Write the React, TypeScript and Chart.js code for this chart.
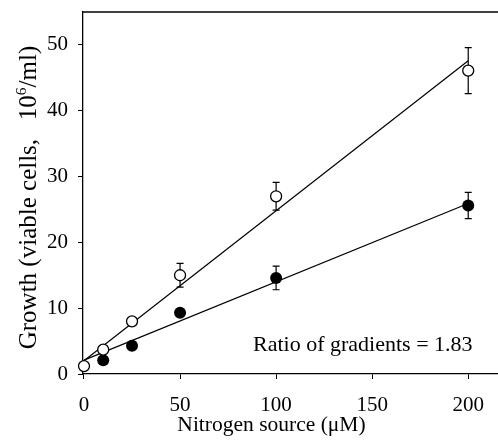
import React, { useEffect, useRef } from "react";
import { Chart, registerables } from "chart.js";

Chart.register(...registerables);

// ---- data ----
const openN = [0, 10, 25, 50, 100, 200];
const openGrowth = [1.2, 3.7, 8.0, 15.0, 27.0, 46.1];
const openErr = [0, 0, 0, 1.8, 2.1, 3.5];
const filledN = [10, 25, 50, 100, 200];
const filledGrowth = [2.1, 4.3, 9.3, 14.6, 25.6];
const filledErr = [0, 0, 0, 1.8, 2.0];
const fitX = [0, 200];
const openFit = [2.0, 47.6];
const filledFit = [2.1, 25.9];
const xTicks = [0, 50, 100, 150, 200];
const yTicks = [0, 10, 20, 30, 40, 50];
const xTitle = "Nitrogen source (\u03BCM)";
const yTitleMain = "Growth (viable cells,   10";
const yTitleSup = "6";
const yTitleEnd = "/ml)";
const annotation = "Ratio of gradients = 1.83";

const SERIF = "'Liberation Serif', 'Times New Roman', serif";

const figurePlugin = {
  id: "figureExtras",
  beforeDatasetsDraw(chart: any) {
    const ctx = chart.ctx;
    const xs = chart.scales.x;
    const ys = chart.scales.y;
    ctx.save();
    ctx.strokeStyle = "#000";
    ctx.lineWidth = 1.2;
    const drawErr = (xv: number, yv: number, e: number) => {
      if (!e) return;
      const px = xs.getPixelForValue(xv);
      const t = ys.getPixelForValue(yv + e);
      const b = ys.getPixelForValue(yv - e);
      ctx.beginPath();
      ctx.moveTo(px, t);
      ctx.lineTo(px, b);
      ctx.moveTo(px - 3.5, t);
      ctx.lineTo(px + 3.5, t);
      ctx.moveTo(px - 3.5, b);
      ctx.lineTo(px + 3.5, b);
      ctx.stroke();
    };
    openN.forEach((n, i) => drawErr(n, openGrowth[i], openErr[i]));
    filledN.forEach((n, i) => drawErr(n, filledGrowth[i], filledErr[i]));
    ctx.restore();
  },
  afterDraw(chart: any) {
    const ctx = chart.ctx;
    const area = chart.chartArea;
    ctx.save();
    // top frame line
    ctx.strokeStyle = "#000";
    ctx.lineWidth = 1.3;
    ctx.beginPath();
    ctx.moveTo(area.left, area.top);
    ctx.lineTo(chart.width, area.top);
    ctx.stroke();

    ctx.fillStyle = "#000";
    // annotation
    ctx.font = `22px ${SERIF}`;
    ctx.textAlign = "left";
    ctx.textBaseline = "alphabetic";
    ctx.fillText(annotation, 253, 351);

    // x title
    ctx.font = `21.5px ${SERIF}`;
    ctx.textAlign = "center";
    ctx.fillText(xTitle, 271.5, 430.7);

    // y title (rotated with superscript)
    ctx.translate(35.5, 197.5);
    ctx.rotate(-Math.PI / 2);
    ctx.textAlign = "left";
    const big = `25px ${SERIF}`;
    const small = `15.5px ${SERIF}`;
    ctx.font = big;
    const w1 = ctx.measureText(yTitleMain).width;
    const w3 = ctx.measureText(yTitleEnd).width;
    ctx.font = small;
    const w2 = ctx.measureText(yTitleSup).width;
    const start = -(w1 + w2 + w3) / 2;
    ctx.font = big;
    ctx.fillText(yTitleMain, start, 0);
    ctx.font = small;
    ctx.fillText(yTitleSup, start + w1, -10);
    ctx.font = big;
    ctx.fillText(yTitleEnd, start + w1 + w2, 0);
    ctx.restore();
  },
};

export default function App() {
  const ref = useRef<HTMLCanvasElement | null>(null);

  useEffect(() => {
    if (!ref.current) return;
    const tickFont = { family: SERIF, size: 21 };
    const chart = new Chart(ref.current, {
      type: "scatter",
      data: {
        datasets: [
          {
            label: "open",
            data: openN.map((x, i) => ({ x, y: openGrowth[i] })),
            pointRadius: 5.5,
            pointBackgroundColor: "#fff",
            pointBorderColor: "#000",
            pointBorderWidth: 1.3,
            showLine: false,
            clip: false,
            order: 0,
          },
          {
            label: "filled",
            data: filledN.map((x, i) => ({ x, y: filledGrowth[i] })),
            pointRadius: 6,
            pointBackgroundColor: "#000",
            pointBorderColor: "#000",
            pointBorderWidth: 0,
            showLine: false,
            clip: false,
            order: 0,
          },
          {
            label: "open fit",
            data: fitX.map((x, i) => ({ x, y: openFit[i] })),
            showLine: true,
            pointRadius: 0,
            borderColor: "#000",
            borderWidth: 1.2,
            clip: false,
            order: 1,
          },
          {
            label: "filled fit",
            data: fitX.map((x, i) => ({ x, y: filledFit[i] })),
            showLine: true,
            pointRadius: 0,
            borderColor: "#000",
            borderWidth: 1.2,
            clip: false,
            order: 1,
          },
        ],
      },
      options: {
        responsive: false,
        animation: false,
        devicePixelRatio: 1,
        layout: { autoPadding: false, padding: { top: 12, right: 0, left: 0, bottom: 0 } },
        plugins: {
          legend: { display: false },
          tooltip: { enabled: false },
        },
        scales: {
          x: {
            type: "linear",
            min: -0.52,
            max: 215.5,
            afterBuildTicks: (s: any) => {
              s.ticks = xTicks.map((v) => ({ value: v }));
            },
            afterFit: (s: any) => {
              s.height = 70;
              s.paddingLeft = 0;
              s.paddingRight = 0;
            },
            ticks: { font: tickFont, color: "#000", padding: 14, maxRotation: 0 },
            grid: { drawOnChartArea: false, drawTicks: true, tickLength: 5, color: "#000", lineWidth: 1 },
            border: { display: true, color: "#000", width: 1.3 },
          },
          y: {
            type: "linear",
            min: 0,
            max: 55,
            afterBuildTicks: (s: any) => {
              s.ticks = yTicks.map((v) => ({ value: v }));
            },
            afterFit: (s: any) => {
              s.width = 83;
              s.paddingTop = 0;
              s.paddingBottom = 0;
            },
            ticks: { font: tickFont, color: "#000", padding: 10 },
            grid: { drawOnChartArea: false, drawTicks: true, tickLength: 5, color: "#000", lineWidth: 1 },
            border: { display: true, color: "#000", width: 1.3 },
          },
        },
      },
      plugins: [figurePlugin],
    } as any);
    return () => chart.destroy();
  }, []);

  return (
    <div style={{ position: "fixed", left: 0, top: 0, width: 498, height: 444, background: "#fff" }}>
      <canvas ref={ref} width={498} height={444} style={{ display: "block" }} />
    </div>
  );
}
